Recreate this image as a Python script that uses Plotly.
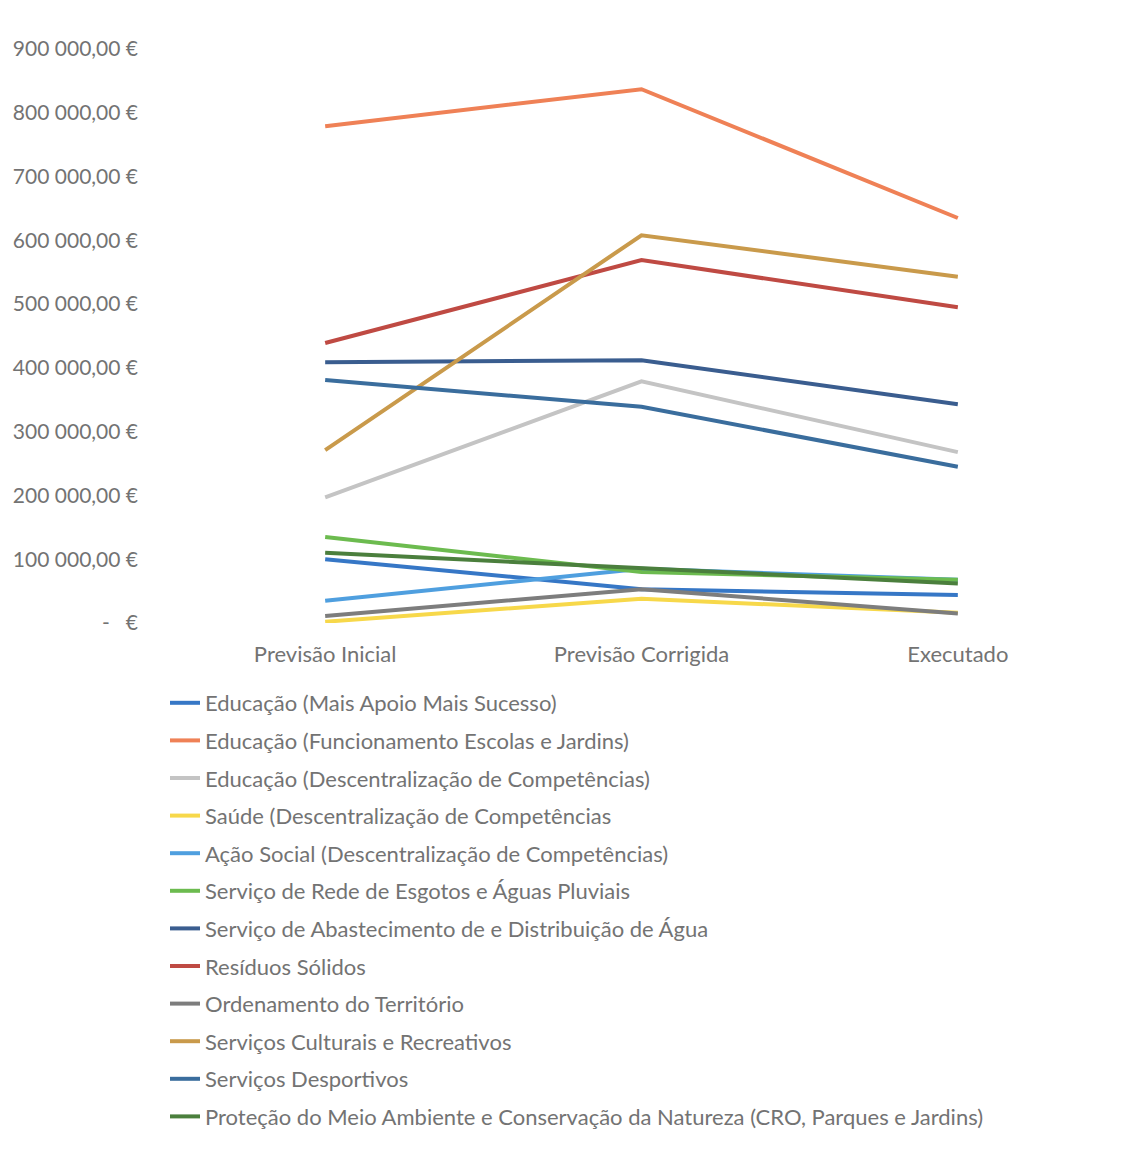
import plotly.graph_objects as go

categories = ["Previsão Inicial", "Previsão Corrigida", "Executado"]

series_names = [
    "Educação (Mais Apoio Mais Sucesso)",
    "Educação (Funcionamento Escolas e Jardins)",
    "Educação (Descentralização de Competências)",
    "Saúde (Descentralização de Competências",
    "Ação Social (Descentralização de Competências)",
    "Serviço de Rede de Esgotos e Águas Pluviais",
    "Serviço de Abastecimento de e Distribuição de Água",
    "Resíduos Sólidos",
    "Ordenamento do Território",
    "Serviços Culturais e Recreativos",
    "Serviços Desportivos",
    "Proteção do Meio Ambiente e Conservação da Natureza (CRO, Parques e Jardins)",
]

mais_apoio = [100000, 53000, 44000]
funcionamento = [779000, 837000, 635000]
educ_descentr = [197000, 379000, 268000]
saude = [2000, 38000, 16000]
acao_social = [35000, 85000, 68000]
esgotos = [135000, 80000, 68000]
abastecimento = [409000, 412000, 343000]
residuos = [439000, 569000, 495000]
ordenamento = [11000, 53000, 15000]
culturais = [271000, 608000, 543000]
desportivos = [381000, 339000, 245000]
protecao = [110000, 86000, 62000]

series_values = [mais_apoio, funcionamento, educ_descentr, saude, acao_social,
                 esgotos, abastecimento, residuos, ordenamento, culturais,
                 desportivos, protecao]

colors = ["#3677c6", "#ef8156", "#c4c4c4", "#f7d84a", "#4f9fdf", "#6cbb4f",
          "#3a5d8f", "#bf4a43", "#7d7d7d", "#c99a4b", "#3a6d9d", "#4b7f3d"]

tick_vals = [0, 100000, 200000, 300000, 400000, 500000, 600000, 700000, 800000, 900000]
tick_text = ["-   €", "100 000,00 €", "200 000,00 €", "300 000,00 €", "400 000,00 €",
             "500 000,00 €", "600 000,00 €", "700 000,00 €", "800 000,00 €", "900 000,00 €"]

FONT = "Lato"
TXT = "#737373"
W, H = 1134, 1147

fig = go.Figure()
for i, (name, vals) in enumerate(zip(series_names, series_values)):
    fig.add_trace(go.Scatter(
        x=categories, y=vals, name=name, mode="lines",
        line=dict(color=colors[i], width=4),
        legendgroup=f"g{i}",
    ))

fig.update_layout(
    width=W, height=H,
    paper_bgcolor="white", plot_bgcolor="white",
    margin=dict(l=159, r=26, t=41, b=532, autoexpand=False),
    font=dict(family=FONT, color=TXT, size=18),
    showlegend=True,
    legend=dict(
        x=157 / W, xanchor="left", xref="container",
        y=1 - 674 / H, yanchor="top", yref="container",
        font=dict(family=FONT, size=22, color=TXT),
        tracegroupgap=6,
        traceorder="grouped",
        bgcolor="rgba(0,0,0,0)",
    ),
    xaxis=dict(
        type="category", range=[-0.5, 2.5], showgrid=False, zeroline=False,
        showline=False, ticks="", tickfont=dict(family=FONT, size=22, color=TXT),
        ticklabelstandoff=16,
    ),
    yaxis=dict(
        range=[0, 900000], tickvals=tick_vals, ticktext=tick_text,
        showgrid=False, zeroline=False, showline=False, ticks="",
        tickfont=dict(family=FONT, size=21, color=TXT),
        ticklabelstandoff=28,
    ),
)

fig.write_html("out.html")
